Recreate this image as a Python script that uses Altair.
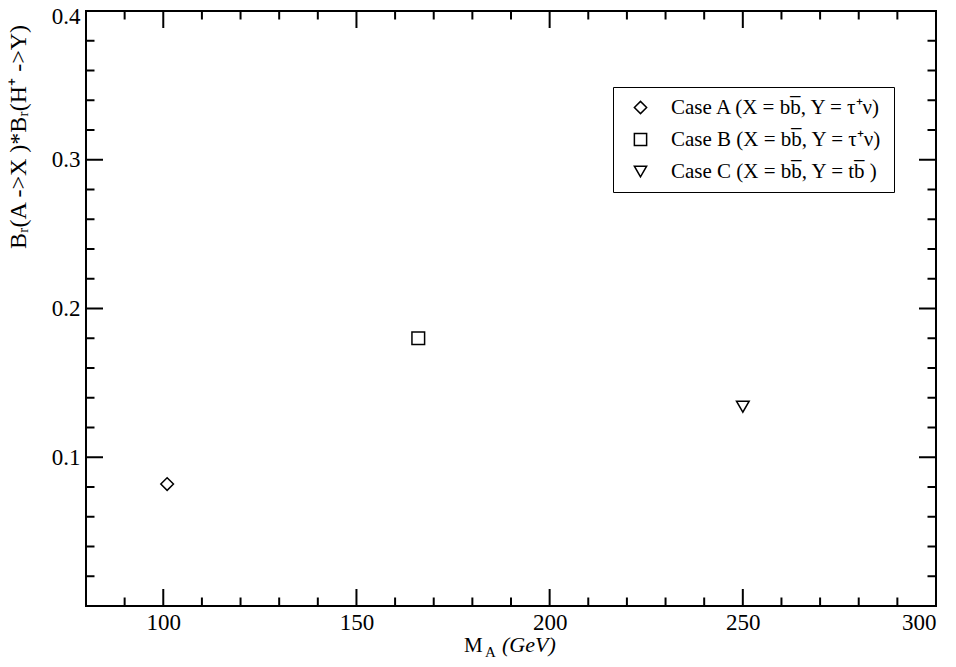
import altair as alt
import pandas as pd

# ---- data ----
cases = [
    "Case A (X = bb\u0305, Y = \u03c4\u207a\u03bd)",
    "Case B (X = bb\u0305, Y = \u03c4\u207a\u03bd)",
    "Case C (X = bb\u0305, Y = tb\u0305  )",
]
m_a = [101, 166, 250]
br_prod = [0.082, 0.180, 0.134]
shapes = ["diamond", "square", "triangle-down"]

x_major = [100, 150, 200, 250, 300]
x_minor = [90, 110, 120, 130, 140, 160, 170, 180, 190, 210, 220, 230, 240,
           260, 270, 280, 290]
y_major = [0.1, 0.2, 0.3, 0.4]
y_minor = [0.02, 0.04, 0.06, 0.08, 0.12, 0.14, 0.16, 0.18, 0.22, 0.24, 0.26,
           0.28, 0.32, 0.34, 0.36, 0.38]

x_title_parts = ["M", "A", "(GeV)"]
y_title = "B\u1d63(A ->X )*B\u1d63(H\u207a ->Y)"

W, H = 850, 595
FONT = "Liberation Serif"
MAJ, MIN = 17, 8.5

xscale = alt.Scale(domain=[80, 300], nice=False, zero=False)
yscale = alt.Scale(domain=[0, 0.4], nice=False, zero=False)
xaxis = alt.Axis(values=x_major, format="d", title=None, labelPadding=5,
                 domain=False, ticks=False, grid=False, labelFont=FONT,
                 labelFontSize=23, labelColor="black")
yaxis = alt.Axis(values=y_major, format=".1f", title=None, labelPadding=6,
                 domain=False, ticks=False, grid=False, labelFont=FONT,
                 labelFontSize=23, labelColor="black",
                 labelOffset={"condition": {"test": "datum.value >= 0.399",
                                            "value": 5}, "value": 0})

pts = pd.DataFrame({"case": cases, "m": m_a, "br": br_prod})

points = alt.Chart(pts).mark_point(
    filled=False, color="black", strokeWidth=1.5, size=160, opacity=1
).encode(
    x=alt.X("m:Q", scale=xscale, axis=xaxis),
    y=alt.Y("br:Q", scale=yscale, axis=yaxis),
    shape=alt.Shape(
        "case:N",
        scale=alt.Scale(domain=cases, range=shapes),
        legend=alt.Legend(
            title=None, orient="none", legendX=527, legendY=76,
            padding=10, rowPadding=10, symbolOffset=7, labelOffset=20,
            labelLimit=400, labelFont=FONT, labelFontSize=21,
            labelColor="black", symbolSize=150, symbolStrokeWidth=1.5,
            symbolStrokeColor="black", symbolFillColor="white",
            strokeColor="black", fillColor="white",
        ),
    ),
)

def xticks(vals, length):
    d = pd.DataFrame({"v": vals})
    bottom = alt.Chart(d).mark_rule(color="black", strokeWidth=2).encode(
        x=alt.X("v:Q", scale=xscale, axis=xaxis),
        y=alt.value(H), y2=alt.value(H - length))
    top = alt.Chart(d).mark_rule(color="black", strokeWidth=2).encode(
        x=alt.X("v:Q", scale=xscale, axis=xaxis),
        y=alt.value(0), y2=alt.value(length))
    return [bottom, top]

def yticks(vals, length):
    d = pd.DataFrame({"v": vals})
    left = alt.Chart(d).mark_rule(color="black", strokeWidth=2).encode(
        y=alt.Y("v:Q", scale=yscale, axis=yaxis),
        x=alt.value(0), x2=alt.value(length))
    right = alt.Chart(d).mark_rule(color="black", strokeWidth=2).encode(
        y=alt.Y("v:Q", scale=yscale, axis=yaxis),
        x=alt.value(W), x2=alt.value(W - length))
    return [left, right]

tick_layers = (xticks(x_major, MAJ) + xticks(x_minor, MIN)
               + yticks(y_major, MAJ) + yticks(y_minor, MIN))

xt_m = alt.Chart(pd.DataFrame({"t": [x_title_parts[0]]})).mark_text(
    font=FONT, fontSize=21, align="left", baseline="alphabetic", color="black"
).encode(text="t:N", x=alt.value(378), y=alt.value(641))
xt_a = alt.Chart(pd.DataFrame({"t": [x_title_parts[1]]})).mark_text(
    font=FONT, fontSize=15, align="left", baseline="alphabetic", color="black"
).encode(text="t:N", x=alt.value(399), y=alt.value(646))
xt_g = alt.Chart(pd.DataFrame({"t": [x_title_parts[2]]})).mark_text(
    font=FONT, fontSize=22, fontStyle="italic", align="left",
    baseline="alphabetic", color="black"
).encode(text="t:N", x=alt.value(416), y=alt.value(641))
yt = alt.Chart(pd.DataFrame({"t": [y_title]})).mark_text(
    font=FONT, fontSize=24, align="center", baseline="middle", angle=270,
    color="black"
).encode(text="t:N", x=alt.value(-67), y=alt.value(126))

chart = alt.layer(*tick_layers, points, xt_m, xt_a, xt_g, yt).properties(
    width=W, height=H, background="white",
    autosize=alt.AutoSizeParams(type="none"),
    padding={"left": 78, "top": 3, "right": 12, "bottom": 56},
).configure_view(
    stroke="black", strokeWidth=2
).configure_axis(
    domain=False, ticks=False, grid=False,
    labelFont=FONT, labelFontSize=23, labelColor="black",
)

chart.save("out.html", embed_options={"renderer": "svg", "actions": False})
